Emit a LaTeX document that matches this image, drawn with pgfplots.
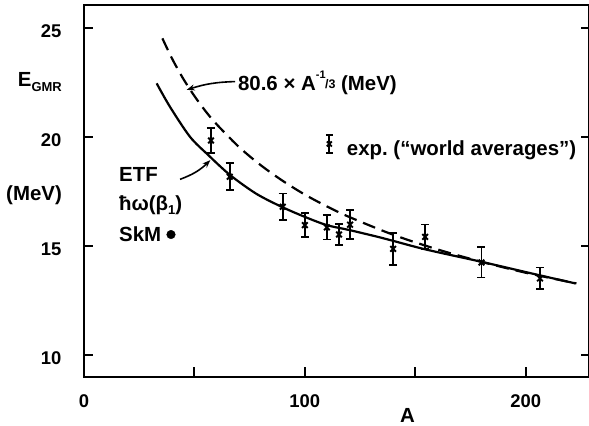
\documentclass[border=0pt]{standalone}
\usepackage{pgfplots}
\pgfplotsset{compat=1.18}
\usepackage{fontspec}
\setmainfont{Liberation Sans}
\usetikzlibrary{arrows.meta}

\begin{document}
\begin{tikzpicture}[lbl/.style={inner sep=0pt, font=\bfseries\fontsize{20.5}{23}\selectfont}]
\begin{axis}[
  scale only axis, width=505bp, height=372bp,
  xmin=0, xmax=228.7, ymin=9, ymax=26.05,
  clip mode=individual,
  axis line style={line width=2.4bp},
  major tick length=0pt,
  xtick={0,50,100,150,200}, xticklabels={0,,100,,200},
  ytick={10,15,20,25},
  tick label style={font=\bfseries\fontsize{18.5}{20}\selectfont},
  xticklabel style={yshift=-14bp},
  yticklabel style={xshift=-19bp, yshift=-3bp},
  /pgf/number format/assume math mode=true,
]
% ETF hbar omega(beta_1)
\addplot[black, line width=2.2bp, smooth] coordinates {
(32.9,22.46) (38.9,21.39) (48,20.01) (56.3,19.17) (66.1,18.26) (78,17.40)
(89.5,16.80) (100,16.34) (110,15.96) (120.4,15.73) (134,15.40) (140,15.24)
(155,14.84) (180,14.28) (206,13.67) (222.5,13.29)
};
% 80.6 x A^{-1/3}
\addplot[black, line width=2.2bp, smooth, dash pattern=on 13bp off 7bp] coordinates {
(35.5,24.52) (40,23.57) (45,22.66) (50,21.88) (55,21.19) (60,20.59) (70,19.56)
(80,18.71) (90,17.99) (100,17.36) (110,16.82) (120,16.34) (140,15.52)
(160,14.85) (180,14.28) (200,13.78) (223,13.29)
};
% exp. world averages
\addplot[black, only marks, mark=x, mark size=4bp, line width=1.9bp,
  error bars/.cd, y dir=both, y explicit,
  error bar style={line width=1.9bp},
  error mark options={rotate=90, mark size=4bp, line width=1.9bp}]
table[x=A, y=E, y error=e] {
A E e
57.5 19.84 0.56
66 18.18 0.61
90 16.80 0.61
100 15.96 0.54
110 15.86 0.56
115.5 15.53 0.48
120.5 15.98 0.67
140 14.87 0.73
154.5 15.42 0.57
180 14.25 0.69
206.5 13.52 0.50
};
% legend sample
\addplot[black, only marks, mark=x, mark size=3.5bp, line width=1.9bp,
  error bars/.cd, y dir=both, y explicit,
  error bar style={line width=1.9bp},
  error mark options={rotate=90, mark size=3.5bp, line width=1.9bp}]
table[x=A, y=E, y error=e] {
A E e
111.1 19.68 0.40
};
% SkM
\addplot[black, only marks, mark=*, mark size=4.3bp] coordinates {(39.4,15.53)};

% ticks (inward)
\draw[line width=2bp] (axis cs:0,10) -- (axis cs:4.1,10);
\draw[line width=2bp] (axis cs:0,15) -- (axis cs:4.1,15);
\draw[line width=2bp] (axis cs:0,20) -- (axis cs:4.1,20);
\draw[line width=2bp] (axis cs:0,25) -- (axis cs:4.1,25);
\draw[line width=2bp] (axis cs:228.7,10) -- (axis cs:225.1,10);
\draw[line width=2bp] (axis cs:228.7,15) -- (axis cs:225.1,15);
\draw[line width=2bp] (axis cs:228.7,20) -- (axis cs:225.1,20);
\draw[line width=2bp] (axis cs:228.7,25) -- (axis cs:225.1,25);
\draw[line width=2bp] (axis cs:50,9) -- (axis cs:50,9.46);
\draw[line width=2bp] (axis cs:100,9) -- (axis cs:100,9.46);
\draw[line width=2bp] (axis cs:150,9) -- (axis cs:150,9.46);
\draw[line width=2bp] (axis cs:200,9) -- (axis cs:200,9.46);

\node[lbl, anchor=west] at (axis cs:119.0,19.40) {exp.\ (``world averages'')};
\node[lbl, anchor=west] at (axis cs:69.7,22.48)
  {80.6 × A\raisebox{12bp}{\fontsize{11}{12}\selectfont -1}\kern-0.5bp\raisebox{2.5bp}{\fontsize{12.5}{13}\selectfont/3} (MeV)};
\node[lbl, anchor=west] at (axis cs:15.85,18.26) {ETF};
\node[lbl, anchor=west] at (axis cs:15.85,16.88) {ħω(β\raisebox{-4bp}{\fontsize{13}{14}\selectfont 1})};
\node[lbl, anchor=west] at (axis cs:15.85,15.55) {SkM};
\node[lbl, anchor=east] at (axis cs:-9.96,22.52) {E\raisebox{-5bp}{\fontsize{13}{14}\selectfont GMR}};
\node[lbl, anchor=east] at (axis cs:-9.96,17.34) {(MeV)};
\node[lbl] at (axis cs:146.5,7.25) {A};

\draw[line width=1.6bp, -{Stealth[length=8bp,width=6bp]}] (axis cs:43.5,18.06) to[bend right=12] (axis cs:57.2,18.94);
\draw[line width=1.6bp, -{Stealth[length=8bp,width=6bp]}] (axis cs:68.4,22.54) to[bend right=8] (axis cs:46.5,22.16);
\end{axis}
\pgfresetboundingbox
\path[use as bounding box] (-84bp,-49bp) rectangle (505bp,377bp);
\end{tikzpicture}
\end{document}
